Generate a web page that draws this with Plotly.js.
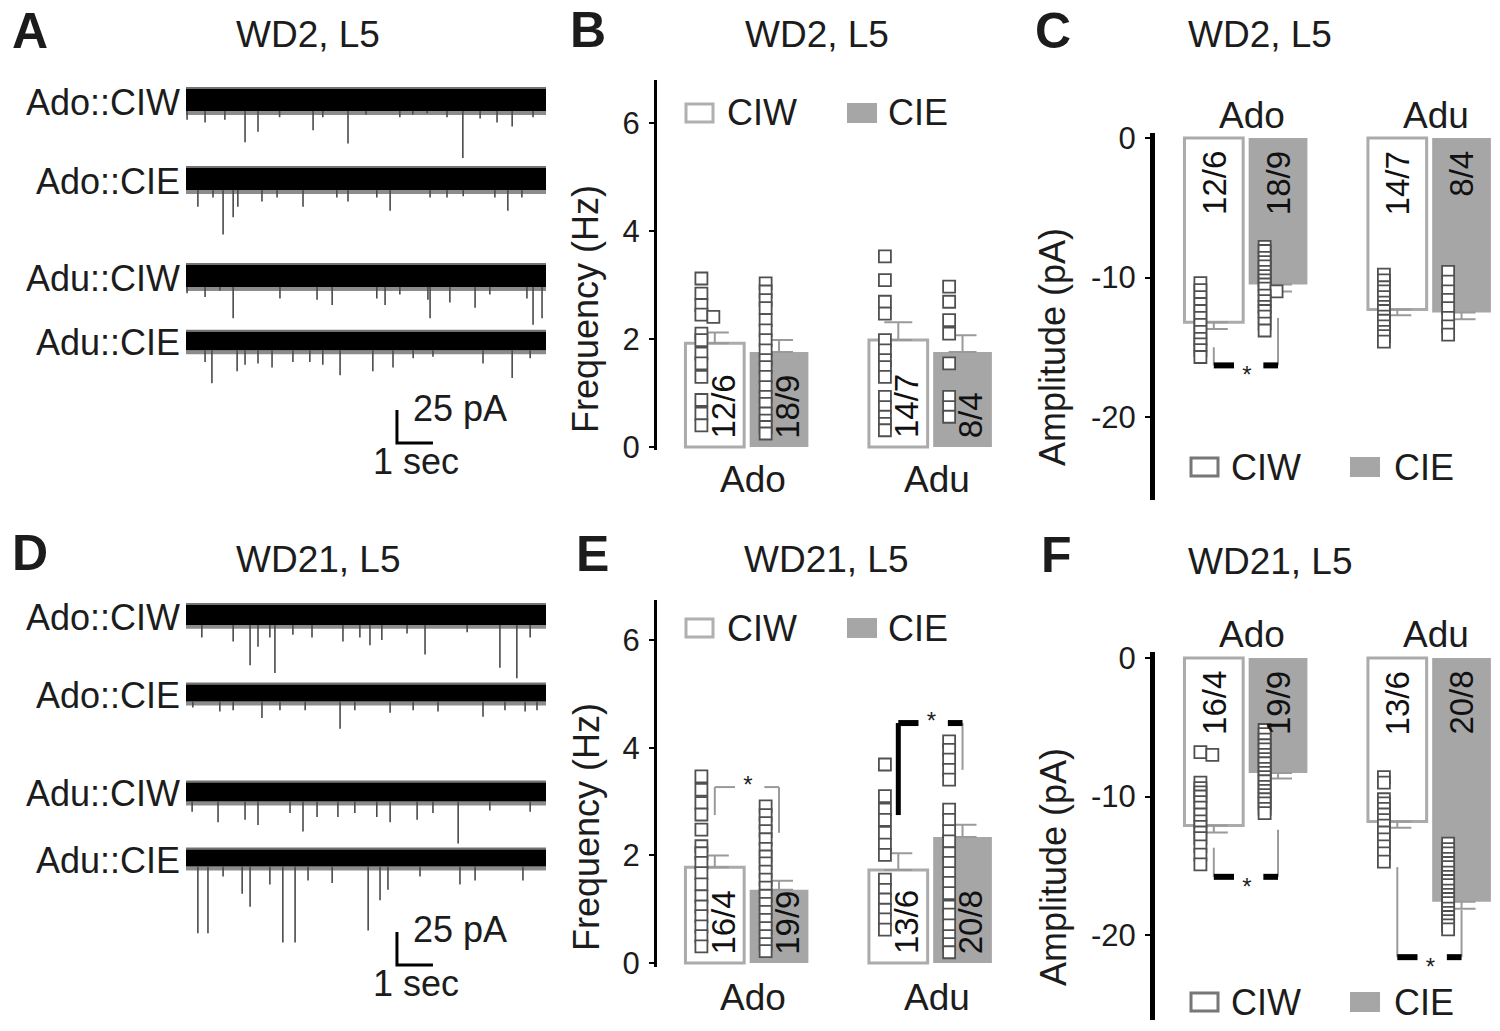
<!DOCTYPE html>
<html><head><meta charset="utf-8">
<script src="https://cdn.plot.ly/plotly-3.0.1.min.js"></script>
<style>html,body{margin:0;padding:0;background:#fff}#chart{width:1500px;height:1031px}</style>
</head><body><div id="chart"></div>
<script>
// ===================== DATA =====================
const rowLabels = ['Ado::CIW', 'Ado::CIE', 'Adu::CIW', 'Adu::CIE'];
const traceDurationSec = 10;
const scaleBarPA = 25, scaleBarSec = 1;
// baseline noise half-width (pA) of each trace
const noiseWD2 = [8.3, 8.3, 8.3, 7.0];
const noiseWD21 = [7.5, 6.5, 7.2, 6.5];
// sEPSC events: [time (s), peak (pA)]
const eventsWD2_AdoCIW = [[0.03,-15],[0.53,-17],[1.08,-15],[1.64,-32],[2.0,-24],[2.6,-13],[3.53,-23],[3.8,-13],[4.5,-33],[5.0,-11],[5.94,-13],[6.3,-11],[6.7,-10],[7.25,-13],[7.69,-44],[8.17,-14],[8.64,-17],[9.06,-20],[9.64,-13]];
const eventsWD2_AdoCIE = [[0.33,-21],[0.75,-14],[1.03,-42],[1.31,-29],[1.44,-21],[2.11,-17],[2.53,-14],[3.25,-21],[4.19,-14],[4.5,-17],[5.3,-14],[5.67,-24],[6.78,-14],[7.25,-14],[7.7,-13],[8.58,-14],[8.94,-24],[9.33,-14]];
const eventsWD2_AduCIW = [[0.03,-13],[0.53,-16],[0.94,-11],[1.31,-32],[2.61,-17],[3.64,-18],[4.06,-22],[5.3,-17],[5.53,-22],[5.94,-14],[6.72,-18],[6.78,-32],[7.33,-20],[8.03,-24],[8.44,-14],[9.47,-17],[9.64,-37],[9.89,-32]];
const eventsWD2_AduCIE = [[0.53,-16],[0.72,-32],[1.42,-23],[1.64,-18],[2.0,-17],[2.39,-20],[2.97,-16],[3.44,-16],[3.8,-18],[4.28,-26],[5.19,-23],[5.75,-20],[6.31,-13],[6.86,-12],[8.25,-17],[9.06,-28],[9.56,-13]];
const eventsWD21_AdoCIW = [[0.44,-17],[1.31,-20],[1.78,-38],[2.0,-24],[2.33,-17],[2.47,-44],[2.97,-15],[3.5,-17],[4.36,-20],[4.83,-17],[5.11,-23],[5.44,-19],[6.14,-14],[6.64,-30],[7.81,-13],[8.72,-40],[9.19,-48],[9.56,-17]];
const eventsWD21_AdoCIE = [[0.19,-11],[0.94,-14],[1.31,-13],[2.11,-19],[2.61,-13],[3.31,-13],[4.28,-27],[4.69,-13],[5.67,-15],[6.31,-13],[7.0,-14],[8.25,-18],[8.86,-13],[9.42,-14],[9.75,-13]];
const eventsWD21_AduCIW = [[0.17,-15],[0.89,-23],[1.64,-21],[2.0,-25],[2.89,-16],[3.25,-30],[3.64,-19],[4.22,-19],[4.69,-16],[5.3,-19],[5.67,-23],[6.42,-21],[6.86,-16],[7.56,-39],[8.44,-14],[9.56,-15]];
const eventsWD21_AduCIE = [[0.33,-57],[0.61,-57],[1.03,-14],[1.56,-27],[1.78,-37],[2.33,-20],[2.69,-64],[3.03,-64],[3.39,-17],[4.06,-19],[5.06,-55],[5.39,-32],[5.61,-24],[6.5,-14],[7.61,-20],[8.03,-17],[9.36,-17]];

const groups = ['Ado', 'Adu'];
const conditions = ['CIW', 'CIE'];
const freqTicks = [0, 2, 4, 6];
const ampTicks = [0, -10, -20];
const ampTickText = ['0', '-10', '-20'];

// B: WD2 frequency (Hz) [Ado, Adu]
const freqWD2_CIW = [1.92, 1.98], freqWD2_CIW_sem = [0.20, 0.33];
const freqWD2_CIE = [1.76, 1.76], freqWD2_CIE_sem = [0.22, 0.31];
const freqWD2_AdoCIW = [3.12,2.84,2.63,2.45,2.41,2.10,1.98,1.73,1.55,1.30,0.87,0.62,0.40];
const freqWD2_AdoCIE = [3.03,2.88,2.72,2.57,2.35,2.16,1.98,1.79,1.61,1.48,1.30,1.11,0.93,0.80,0.62,0.49,0.37,0.25];
const freqWD2_AduCIW = [3.53,3.09,2.69,2.47,1.98,1.79,1.61,1.48,1.30,0.93,0.74,0.56,0.43,0.31];
const freqWD2_AduCIE = [2.97,2.69,2.35,2.10,1.55,0.93,0.74,0.56];
const nWD2_CIW = ['12/6', '14/7'], nWD2_CIE = ['18/9', '8/4'];

// C: WD2 amplitude (pA)
const ampWD2_CIW = [-13.2, -12.3], ampWD2_CIW_sem = [0.5, 0.4];
const ampWD2_CIE = [-10.5, -12.5], ampWD2_CIE_sem = [0.5, 0.5];
const ampWD2_AdoCIW = [-10.4,-10.9,-11.4,-11.9,-12.4,-12.9,-13.4,-13.9,-14.4,-14.8,-15.2,-15.7];
const ampWD2_AdoCIE = [-7.8,-8.1,-8.6,-8.9,-9.2,-9.6,-9.9,-10.2,-10.5,-10.8,-11.0,-11.3,-11.7,-12.1,-12.4,-12.8,-13.3,-13.8];
const ampWD2_AduCIW = [-9.8,-10.2,-10.7,-11.0,-11.4,-11.8,-12.1,-12.4,-12.8,-13.1,-13.5,-13.9,-14.2,-14.6];
const ampWD2_AduCIE = [-9.6,-10.3,-11.0,-11.6,-12.2,-12.9,-13.5,-14.1];
// significance bracket: [bracket level, left leg end, right leg end]
const sigWD2amp_Ado = [-16.3, -15.0, -12.9];

// E: WD21 frequency (Hz)
const freqWD21_CIW = [1.78, 1.73], freqWD21_CIW_sem = [0.22, 0.31];
const freqWD21_CIE = [1.36, 2.34], freqWD21_CIE_sem = [0.17, 0.23];
const freqWD21_AdoCIW = [3.47,3.22,2.97,2.76,2.48,2.17,2.04,1.86,1.67,1.46,1.24,1.05,0.87,0.68,0.50,0.31];
const freqWD21_AdoCIE = [2.91,2.75,2.60,2.45,2.30,2.12,1.98,1.85,1.70,1.55,1.40,1.25,1.10,0.95,0.80,0.65,0.50,0.35,0.22];
const freqWD21_AduCIW = [3.69,3.10,2.85,2.66,2.42,2.20,2.01,1.55,1.36,1.18,0.99,0.81,0.62];
const freqWD21_AduCIE = [4.12,3.96,3.78,3.59,3.41,2.85,2.66,2.45,2.26,2.04,1.86,1.67,1.49,1.30,1.05,0.90,0.70,0.50,0.35,0.20];
const nWD21_CIW = ['16/4', '13/6'], nWD21_CIE = ['19/9', '20/8'];
const sigWD21freq_Ado = [3.27, 2.75, 2.42];
const sigWD21freq_Adu = [4.46, 2.75, 3.59];

// F: WD21 amplitude (pA)
const ampWD21_CIW = [-12.1, -11.8], ampWD21_CIW_sem = [0.5, 0.45];
const ampWD21_CIE = [-8.3, -17.6], ampWD21_CIE_sem = [0.4, 0.5];
const ampWD21_AdoCIW = [-6.8,-7.0,-9.0,-9.4,-9.7,-10.0,-10.4,-10.8,-11.3,-11.8,-12.2,-12.6,-13.0,-13.6,-14.2,-14.9];
const ampWD21_AdoCIE = [-5.2,-5.5,-5.9,-6.3,-6.6,-7.0,-7.3,-7.6,-8.0,-8.3,-8.6,-8.9,-9.3,-9.6,-9.9,-10.2,-10.5,-10.9,-11.2];
const ampWD21_AduCIW = [-8.6,-9.0,-10.2,-10.5,-10.9,-11.3,-11.7,-12.1,-12.6,-13.1,-13.6,-14.1,-14.7];
const ampWD21_AduCIE = [-13.4,-13.8,-14.1,-14.5,-14.8,-15.1,-15.5,-15.8,-16.1,-16.4,-16.8,-17.1,-17.4,-17.7,-18.1,-18.4,-18.7,-19.0,-19.3,-19.6];
const sigWD21amp_Ado = [-15.8, -13.7, -12.4];
const sigWD21amp_Adu = [-21.6, -15.1, -18.2];

// ===================== LAYOUT HELPERS =====================
const W = 1500, H = 1031;
const fx = p => p / W;
const fy = p => 1 - p / H;
const FONT = 'Liberation Sans, Arial, Helvetica, sans-serif';
const INK = '#1c1c1c';
const CIE_GRAY = '#a6a6a6';
const CIW_EDGE = '#ababab';

const data = [];
const annotations = [];
const shapes = [];
const layout = {
  width: W, height: H,
  margin: {l: 0, r: 0, t: 0, b: 0},
  paper_bgcolor: '#fff', plot_bgcolor: 'rgba(0,0,0,0)',
  showlegend: false, barmode: 'overlay',
  font: {family: FONT, color: INK},
  annotations, shapes
};
const axKey = (l, n) => n === 1 ? l + 'axis' : l + 'axis' + n;
const axRef = (l, n) => n === 1 ? l : l + n;

function text(str, x, y, size, opts) {
  annotations.push(Object.assign({
    text: str, x: fx(x), y: fy(y), xref: 'paper', yref: 'paper',
    xanchor: 'center', yanchor: 'middle', showarrow: false,
    font: {family: FONT, size: size, color: INK}
  }, opts || {}));
}

// ===================== TRACE PANELS (A, D) =====================
const T_LEFT = 186, T_RIGHT = 546, PX_PER_PA = 1.32;
function tracePanel(xn, yStart, centers, noise, eventSets, scale) {
  layout[axKey('x', xn)] = {domain: [fx(T_LEFT), fx(T_RIGHT)], range: [0, traceDurationSec],
    visible: false, anchor: axRef('y', yStart), fixedrange: true};
  centers.forEach((c, i) => {
    const yn = yStart + i;
    const lo = i === 3 ? -100 : -55, hi = 12;
    layout[axKey('y', yn)] = {domain: [fy(c - lo * PX_PER_PA), fy(c - hi * PX_PER_PA)],
      range: [lo, hi], visible: false, anchor: axRef('x', xn), fixedrange: true};
    const xr = axRef('x', xn), yr = axRef('y', yn);
    const n = noise[i];
    const band = (a, b, col) => data.push({type: 'scatter', mode: 'lines', xaxis: xr, yaxis: yr,
      x: [0, traceDurationSec, traceDurationSec, 0, 0], y: [a, a, b, b, a],
      fill: 'toself', fillcolor: col, line: {width: 0}, hoverinfo: 'skip'});
    band(-n - 3, -n, 'rgba(0,0,0,0.45)');
    band(n, n + 1.5, 'rgba(0,0,0,0.55)');
    band(-n, n, '#000');
    const ex = [], ey = [];
    eventSets[i].forEach(([t, a]) => { ex.push(t, t, null); ey.push(-n, a, null); });
    data.push({type: 'scatter', mode: 'lines', xaxis: xr, yaxis: yr, x: ex, y: ey,
      line: {color: '#4a4a4a', width: 1.6}, hoverinfo: 'skip'});
    annotations.push({text: rowLabels[i], xref: xr, yref: yr, x: 0, y: 0, xanchor: 'right',
      yanchor: 'middle', xshift: -4, yshift: -2, showarrow: false, font: {family: FONT, size: 36, color: INK}});
  });
  // scale bar in the last row's units
  const yr = axRef('y', yStart + 3), xr = axRef('x', xn);
  const [t0, y0] = scale;
  data.push({type: 'scatter', mode: 'lines', xaxis: xr, yaxis: yr,
    x: [t0, t0, t0 + scaleBarSec], y: [y0 + scaleBarPA, y0, y0],
    line: {color: '#000', width: 3}, hoverinfo: 'skip'});
  annotations.push({text: scaleBarPA + ' pA', xref: xr, yref: yr, x: t0 + 0.39, y: y0 + scaleBarPA + 1.5,
    xanchor: 'left', yanchor: 'middle', showarrow: false, font: {family: FONT, size: 36, color: INK}});
  annotations.push({text: scaleBarSec + ' sec', xref: xr, yref: yr, x: t0 + 0.53, y: y0 - 14.2,
    xanchor: 'center', yanchor: 'middle', showarrow: false, font: {family: FONT, size: 36, color: INK}});
}
tracePanel(1, 1, [100, 179, 276, 341], noiseWD2,
  [eventsWD2_AdoCIW, eventsWD2_AdoCIE, eventsWD2_AduCIW, eventsWD2_AduCIE], [5.86, -77.3]);
tracePanel(2, 5, [615, 693, 792, 858], noiseWD21,
  [eventsWD21_AdoCIW, eventsWD21_AdoCIE, eventsWD21_AduCIW, eventsWD21_AduCIE], [5.86, -81]);

// ===================== BAR PANELS (B, C, E, F) =====================
const BAR_W = 0.32, OFF = [-0.33, 0.02], PT_IN = 0.087, UNIT_PX = 183.5;
function dodgeCols(vals, pxPerY, thresh) {
  const cols = [];
  return vals.map(v => {
    const p = v * pxPerY; let c = 0;
    while (cols[c] && cols[c].some(q => Math.abs(q - p) < thresh)) c++;
    (cols[c] = cols[c] || []).push(p);
    return c;
  });
}
function barPanel(cfg) {
  const xr = axRef('x', cfg.xn), yr = axRef('y', cfg.yn);
  const [xl, xrPx] = cfg.xPx, [yTop, yBot] = cfg.yPx;
  const x0 = (xl - cfg.g0Px) / UNIT_PX, x1 = (xrPx - cfg.g0Px) / UNIT_PX;
  layout[axKey('x', cfg.xn)] = {domain: [fx(xl), fx(xrPx)], range: [x0, x1], visible: false,
    anchor: yr, fixedrange: true};
  const pxPerY = cfg.pxPerY;
  const r0 = -(yBot - cfg.zeroPx) / pxPerY, r1 = (cfg.zeroPx - yTop) / pxPerY;
  layout[axKey('y', cfg.yn)] = {domain: [fy(yBot), fy(yTop)], range: [r0, r1], anchor: xr,
    showline: true, linecolor: '#000', linewidth: cfg.lineW, showgrid: false, zeroline: false,
    ticks: 'outside', ticklen: 5, tickwidth: 2, tickcolor: '#000', ticklabelstandoff: 3,
    tickvals: cfg.tickvals, ticktext: cfg.ticktext, tickfont: {family: FONT, size: 31, color: INK},
    fixedrange: true};
  const neg = cfg.neg;
  const vals = [cfg.ciw, cfg.cie], sems = [cfg.ciwSem, cfg.cieSem];
  vals.forEach((v, k) => {
    data.push({type: 'bar', xaxis: xr, yaxis: yr, x: [0, 1], y: v, width: BAR_W, offset: OFF[k],
      marker: k === 0 ? {color: '#fff', line: {color: CIW_EDGE, width: 3}} : {color: CIE_GRAY, line: {color: CIE_GRAY, width: 0}},
      error_y: {type: 'data', symmetric: false,
        array: neg ? [0, 0] : sems[k], arrayminus: neg ? sems[k] : [0, 0],
        color: '#9a9a9a', thickness: 2, width: 14},
      hoverinfo: 'skip'});
  });
  // individual cells
  cfg.cells.forEach((pair, g) => pair.forEach((pts, k) => {
    const cols = dodgeCols(pts, pxPerY, 4);
    data.push({type: 'scatter', mode: 'markers', xaxis: xr, yaxis: yr, cliponaxis: false,
      x: pts.map((_, i) => g + OFF[k] + PT_IN + cols[i] * 0.065), y: pts,
      marker: {symbol: 'square', size: 12, color: '#fff', line: {color: '#505050', width: 1.8}},
      hoverinfo: 'skip'});
  }));
  // n labels and group labels
  groups.forEach((gname, g) => {
    [cfg.nCIW[g], cfg.nCIE[g]].forEach((lab, k) => {
      annotations.push({text: lab, xref: xr, yref: yr, textangle: -90, showarrow: false,
        x: g + OFF[k] + BAR_W / 2 + (neg ? 0 : 0.045), y: neg ? -0.8 : 0.12,
        xanchor: 'center', yanchor: neg ? 'top' : 'bottom', font: {family: FONT, size: 33, color: '#111'}});
    });
    annotations.push({text: gname, xref: xr, yref: yr, x: g + 0.04, y: 0, showarrow: false,
      xanchor: 'center', yanchor: neg ? 'bottom' : 'top', yshift: neg ? cfg.catShift : -cfg.catShift,
      font: {family: FONT, size: 37, color: INK}});
  });
  // significance brackets
  (cfg.brackets || []).forEach(b => {
    const g = b.g, [yH, yLL, yLR] = b.vals;
    const xL = g + OFF[0] + BAR_W / 2, xR = g + OFF[1] + BAR_W / 2;
    const light = b.style === 'light';
    const segCol = light ? '#9a9a9a' : '#000', segW = light ? 2 : 6;
    const line = (xs, ys, col, w) => data.push({type: 'scatter', mode: 'lines', xaxis: xr, yaxis: yr,
      x: xs, y: ys, line: {color: col, width: w}, cliponaxis: false, hoverinfo: 'skip'});
    line([xL, xL], [yH, yLL], b.style === 'heavyLeft' ? '#000' : '#9a9a9a', b.style === 'heavyLeft' ? 5 : 2);
    line([xR, xR], [yH, yLR], '#9a9a9a', 2);
    line([xL, xL + 0.11], [yH, yH], segCol, segW);
    line([xR - 0.08, xR], [yH, yH], segCol, segW);
    data.push({type: 'scatter', mode: 'text', xaxis: xr, yaxis: yr, x: [g + 0.01], y: [yH], text: ['*'],
      textposition: neg ? 'bottom center' : 'middle center', cliponaxis: false,
      textfont: {family: FONT, size: 24, color: '#222'}, hoverinfo: 'skip'});
  });
}

barPanel({xn: 3, yn: 9, xPx: [657, 1000], g0Px: 746, yPx: [80, 450], zeroPx: 447, pxPerY: 54, lineW: 3,
  tickvals: freqTicks, ticktext: freqTicks.map(String), neg: false, catShift: 10,
  ciw: freqWD2_CIW, ciwSem: freqWD2_CIW_sem, cie: freqWD2_CIE, cieSem: freqWD2_CIE_sem,
  cells: [[freqWD2_AdoCIW, freqWD2_AdoCIE], [freqWD2_AduCIW, freqWD2_AduCIE]],
  nCIW: nWD2_CIW, nCIE: nWD2_CIE, brackets: []});
barPanel({xn: 4, yn: 10, xPx: [1155, 1500], g0Px: 1245, yPx: [133, 500], zeroPx: 138, pxPerY: 13.95, lineW: 5,
  tickvals: ampTicks, ticktext: ampTickText, neg: true, catShift: 0,
  ciw: ampWD2_CIW, ciwSem: ampWD2_CIW_sem, cie: ampWD2_CIE, cieSem: ampWD2_CIE_sem,
  cells: [[ampWD2_AdoCIW, ampWD2_AdoCIE], [ampWD2_AduCIW, ampWD2_AduCIE]],
  nCIW: nWD2_CIW, nCIE: nWD2_CIE, brackets: [{g: 0, vals: sigWD2amp_Ado, style: 'dark'}]});
barPanel({xn: 5, yn: 11, xPx: [657, 1000], g0Px: 746, yPx: [600, 967], zeroPx: 963, pxPerY: 53.8, lineW: 3,
  tickvals: freqTicks, ticktext: freqTicks.map(String), neg: false, catShift: 12,
  ciw: freqWD21_CIW, ciwSem: freqWD21_CIW_sem, cie: freqWD21_CIE, cieSem: freqWD21_CIE_sem,
  cells: [[freqWD21_AdoCIW, freqWD21_AdoCIE], [freqWD21_AduCIW, freqWD21_AduCIE]],
  nCIW: nWD21_CIW, nCIE: nWD21_CIE,
  brackets: [{g: 0, vals: sigWD21freq_Ado, style: 'light'}, {g: 1, vals: sigWD21freq_Adu, style: 'heavyLeft'}]});
barPanel({xn: 6, yn: 12, xPx: [1155, 1500], g0Px: 1245, yPx: [652, 1020], zeroPx: 658, pxPerY: 13.85, lineW: 5,
  tickvals: ampTicks, ticktext: ampTickText, neg: true, catShift: 1,
  ciw: ampWD21_CIW, ciwSem: ampWD21_CIW_sem, cie: ampWD21_CIE, cieSem: ampWD21_CIE_sem,
  cells: [[ampWD21_AdoCIW, ampWD21_AdoCIE], [ampWD21_AduCIW, ampWD21_AduCIE]],
  nCIW: nWD21_CIW, nCIE: nWD21_CIE,
  brackets: [{g: 0, vals: sigWD21amp_Ado, style: 'dark'}, {g: 1, vals: sigWD21amp_Adu, style: 'dark'}]});

// ===================== LEGENDS =====================
function legend(yc, boxes, edge) {
  // boxes: [ciwBoxLeft, ciwTextLeft, cieBoxLeft, cieTextLeft, boxW]
  const [b1, t1, b2, t2, bw] = boxes;
  shapes.push({type: 'rect', xref: 'paper', yref: 'paper', x0: fx(b1), x1: fx(b1 + bw), y0: fy(yc + 9), y1: fy(yc - 9),
    fillcolor: '#fff', line: {color: edge, width: 3}});
  shapes.push({type: 'rect', xref: 'paper', yref: 'paper', x0: fx(b2), x1: fx(b2 + bw + 3), y0: fy(yc + 10), y1: fy(yc - 10),
    fillcolor: CIE_GRAY, line: {width: 0}});
  text(conditions[0], t1, yc, 36, {xanchor: 'left'});
  text(conditions[1], t2, yc, 36, {xanchor: 'left'});
}
legend(113, [686, 725, 847, 886, 27], '#b0b0b0');
legend(628, [686, 725, 847, 886, 27], '#b0b0b0');
legend(467, [1191, 1229, 1350, 1392, 27], '#777');
legend(1002, [1191, 1229, 1350, 1392, 27], '#777');

// ===================== TITLES / LETTERS / AXIS TITLES =====================
const letterFont = 50;
text('<b>A</b>', 30, 31, letterFont); text('<b>B</b>', 588, 30, letterFont); text('<b>C</b>', 1053, 31, letterFont);
text('<b>D</b>', 30, 553, letterFont); text('<b>E</b>', 592, 554, letterFont); text('<b>F</b>', 1056, 555, letterFont);
text('WD2, L5', 308, 34, 37); text('WD2, L5', 817, 34, 37); text('WD2, L5', 1260, 34, 37);
text('WD21, L5', 318, 559, 37); text('WD21, L5', 826, 559, 37); text('WD21, L5', 1270, 561, 37);
text('Frequency (Hz)', 586, 309, 36, {textangle: -90});
text('Frequency (Hz)', 586, 827, 36, {textangle: -90});
text('Amplitude (pA)', 1053, 347, 36, {textangle: -90});
text('Amplitude (pA)', 1053, 867, 36, {textangle: -90});

Plotly.newPlot('chart', data, layout, {staticPlot: true, displayModeBar: false});
</script>
</body></html>
